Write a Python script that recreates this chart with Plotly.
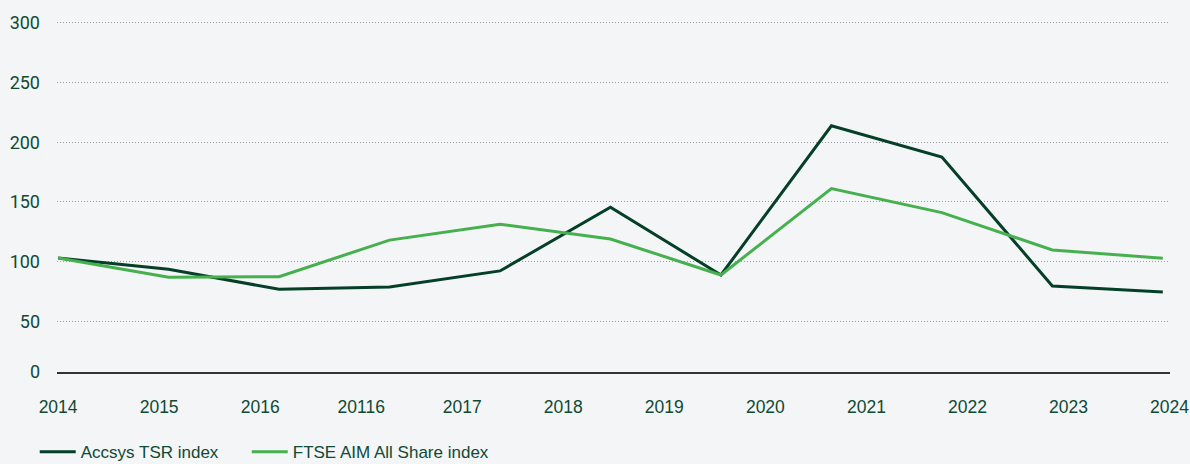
import plotly.graph_objects as go

# Index values, one point per period
periods = ["2014", "2015", "2016", "20116", "2017", "2018", "2019", "2020", "2021", "2022", "2023"]
accsys_tsr = [103, 93.6, 76.8, 78.8, 92.2, 145.6, 88.8, 213.8, 187.6, 79.6, 74.6]
ftse_aim = [103, 86.9, 87.4, 118, 131.4, 119, 88.8, 161.2, 141.1, 109.8, 102.8]

# Category labels shown along the horizontal axis
x_labels = ["2014", "2015", "2016", "20116", "2017", "2018", "2019", "2020", "2021", "2022", "2023", "2024"]
y_ticks = [50, 100, 150, 200, 250, 300]

TEXT = "#0f4a34"
DARK = "#053f27"
LIGHT = "#46b04f"
BG = "#f3f5f7"
NARROW = "Liberation Sans Narrow, Arial Narrow, sans-serif"

x_pos = list(range(len(periods)))
# labels are spread evenly over a slightly wider span than the data points
label_step = 0.9146
label_pos = [i * label_step for i in range(len(x_labels))]

y_floor = 7.5

fig = go.Figure()
fig.add_trace(go.Scatter(
    x=x_pos, y=accsys_tsr, mode="lines", name="Accsys TSR index",
    line=dict(color=DARK, width=3), hoverinfo="skip", legend="legend",
))
fig.add_trace(go.Scatter(
    x=x_pos, y=ftse_aim, mode="lines", name="FTSE AIM All Share index",
    line=dict(color=LIGHT, width=3), hoverinfo="skip", legend="legend2",
))

legend_style = dict(
    orientation="h", xanchor="left", y=-0.175, yanchor="top", itemwidth=36,
    font=dict(family=NARROW, size=17, color=TEXT), bgcolor="rgba(0,0,0,0)",
    itemclick=False, itemdoubleclick=False,
)

fig.update_layout(
    width=1190, height=464,
    margin=dict(l=57, r=20, t=17, b=92, autoexpand=False),
    paper_bgcolor=BG, plot_bgcolor=BG,
    font=dict(family=NARROW, size=17, color=TEXT),
    showlegend=True,
    legend=dict(x=-0.02, **legend_style),
    legend2=dict(x=0.1705, **legend_style),
    xaxis=dict(
        range=[-0.01, 10.065],
        tickmode="array", tickvals=label_pos, ticktext=x_labels,
        showgrid=False, zeroline=False,
        showline=True, linecolor="#333333", linewidth=1.5,
        ticks="", ticklabelstandoff=18,
        tickfont=dict(family=NARROW, size=17.5, color=TEXT),
    ),
    yaxis=dict(
        range=[y_floor, 305],
        tickmode="array", tickvals=[y_floor] + y_ticks,
        ticktext=["0"] + [str(v) for v in y_ticks],
        showgrid=True, gridcolor="#9c9c9c", griddash="1px,2px", gridwidth=1,
        zeroline=False, showline=False,
        ticks="", ticklabelstandoff=16,
        tickfont=dict(family="Roboto, sans-serif", size=18, color=TEXT),
    ),
)

fig.write_html("out.html")
